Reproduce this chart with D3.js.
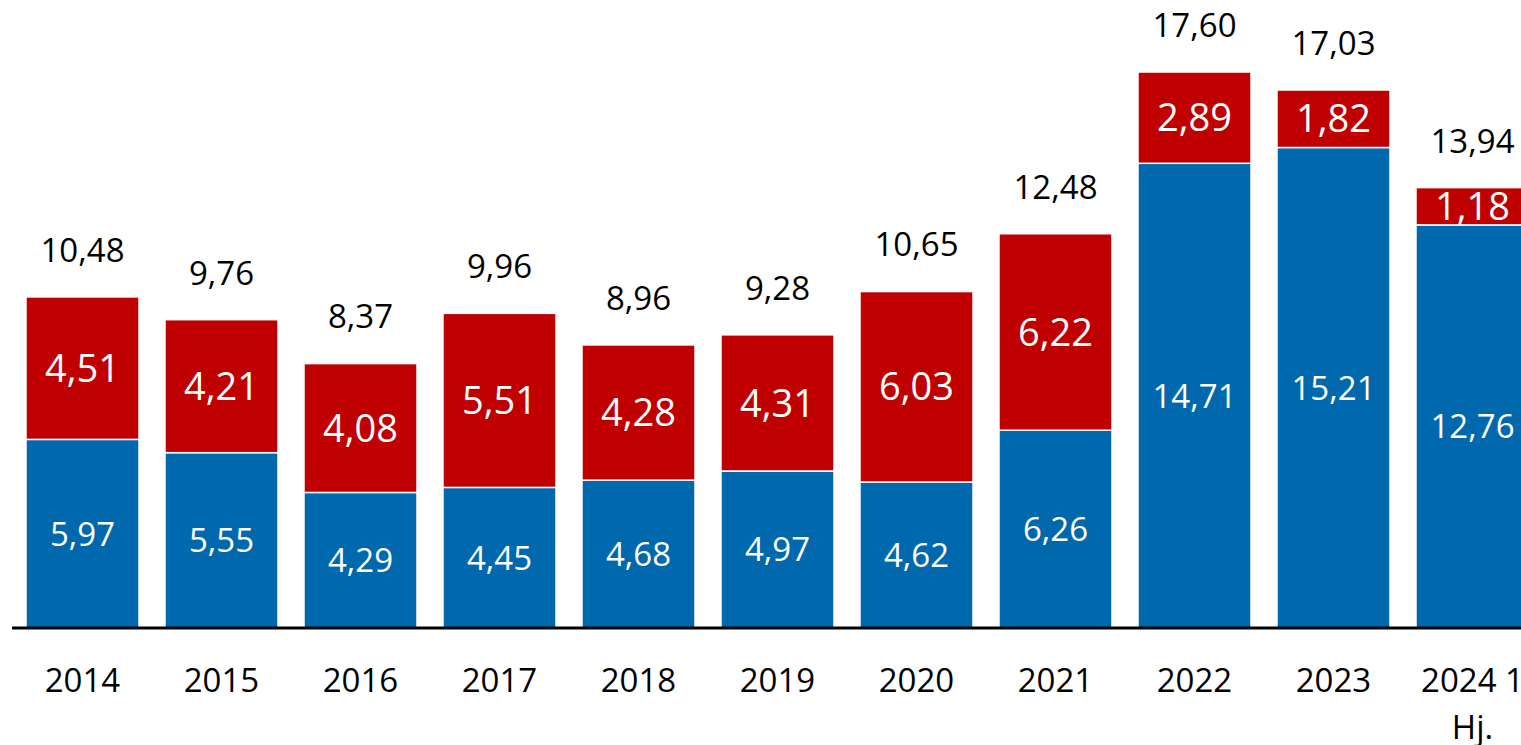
<!DOCTYPE html>
<html>
<head>
<meta charset="utf-8">
<script src="https://cdn.jsdelivr.net/npm/d3@7"></script>
<style>
  body { margin: 0; background: white; overflow: hidden; }
  text { font-family: "Open Sans", "Noto Sans", sans-serif; }
</style>
</head>
<body>
<div id="container"></div>
<script>
let years = ["2014", "2015", "2016", "2017", "2018", "2019", "2020", "2021", "2022", "2023", "2024 1\nHj."]
let blueValues = [5.97, 5.55, 4.29, 4.45, 4.68, 4.97, 4.62, 6.26, 14.71, 15.21, 12.76]
let redValues = [4.51, 4.21, 4.08, 5.51, 4.28, 4.31, 6.03, 6.22, 2.89, 1.82, 1.18]
let totals = [10.48, 9.76, 8.37, 9.96, 8.96, 9.28, 10.65, 12.48, 17.60, 17.03, 13.94]

let width = 1521, height = 745
let baseY = 628

let viz = d3.select("#container").append("svg")
    .attr("width", width)
    .attr("height", height)

let x = d3.scaleBand()
    .domain(years)
    .range([13, 1542])
    .paddingInner(0.187)
    .paddingOuter(0.0935)

let y = d3.scaleLinear()
    .domain([0, 17.6])
    .range([baseY, 72])

function fmt(v){
    return v.toFixed(2).replace(".", ",")
}

let data = years.map((yr, i) => ({year: yr, blue: blueValues[i], red: redValues[i], total: totals[i]}))

let groups = viz.selectAll("g.bar").data(data).enter()
    .append("g").attr("class", "bar")

// blue part
groups.append("rect")
    .attr("x", d => x(d.year))
    .attr("width", x.bandwidth())
    .attr("y", d => y(d.blue))
    .attr("height", d => baseY - y(d.blue))
    .attr("fill", "#0068ad")
    .attr("stroke", "white")
    .attr("stroke-width", 1.5)

// red part
groups.append("rect")
    .attr("x", d => x(d.year))
    .attr("width", x.bandwidth())
    .attr("y", d => y(d.blue + d.red))
    .attr("height", d => y(d.blue) - y(d.blue + d.red))
    .attr("fill", "#c00000")
    .attr("stroke", "white")
    .attr("stroke-width", 1.5)

groups.append("text")
    .attr("x", d => x(d.year) + x.bandwidth()/2)
    .attr("y", d => (y(d.blue) + baseY)/2)
    .attr("dy", "0.36em")
    .attr("text-anchor", "middle")
    .attr("fill", "white")
    .attr("font-size", 33)
    .text(d => fmt(d.blue))

groups.append("text")
    .attr("x", d => x(d.year) + x.bandwidth()/2)
    .attr("y", d => (y(d.blue) + y(d.blue + d.red))/2)
    .attr("dy", "0.36em")
    .attr("text-anchor", "middle")
    .attr("fill", "white")
    .attr("font-size", 38)
    .text(d => fmt(d.red))

groups.append("text")
    .attr("x", d => x(d.year) + x.bandwidth()/2)
    .attr("y", d => y(d.total) - 47)
    .attr("dy", "0.36em")
    .attr("text-anchor", "middle")
    .attr("fill", "black")
    .attr("font-size", 33)
    .text(d => fmt(d.total))

// baseline
viz.append("line")
    .attr("x1", 12)
    .attr("x2", width)
    .attr("y1", baseY)
    .attr("y2", baseY)
    .attr("stroke", "black")
    .attr("stroke-width", 3)

// category labels
let labels = viz.selectAll("text.cat").data(years).enter()
    .append("text").attr("class", "cat")
    .attr("text-anchor", "middle")
    .attr("font-size", 33)
    .attr("fill", "black")

labels.selectAll("tspan")
    .data(d => d.split("\n").map(t => ({t: t, yr: d})))
    .enter().append("tspan")
    .attr("x", d => x(d.yr) + x.bandwidth()/2)
    .attr("y", (d, i) => 680 + i*47)
    .attr("dy", "0.36em")
    .text(d => d.t)
</script>
</body>
</html>
